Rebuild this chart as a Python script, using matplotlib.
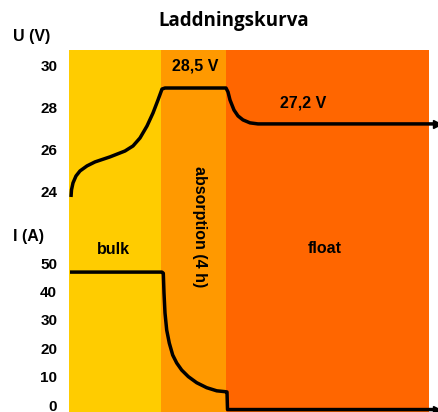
#Laddningskurva - charging curve with bulk / absorption / float phases
import matplotlib
matplotlib.use("Agg")
import matplotlib.pyplot as plt

plt.rcParams['font.family'] = ['Liberation Sans', 'DejaVu Sans']

# phase boundaries on the time axis (arbitrary units)
phase_edges = [0, 9.2, 15.7, 36]
phase_names = ["bulk", "absorption (4 h)", "float"]
phase_colors = ["#FFCC00", "#FF9900", "#FF6600"]

# voltage curve (t, U)
volt_t = [0.2, 0.25, 0.4, 0.7, 1.1, 1.8, 2.6, 4.1, 5.6, 6.4, 7.1, 7.8, 8.4, 8.9, 9.3, 9.6,
          15.7, 15.9, 16.1, 16.5, 16.9, 17.4, 18.1, 18.9, 36.8]
volt_u = [23.76, 24.1, 24.43, 24.76, 25.0, 25.24, 25.43, 25.67, 25.95, 26.19, 26.57, 27.14, 27.76, 28.38, 28.9, 28.95,
          28.95, 28.76, 28.38, 27.9, 27.62, 27.43, 27.29, 27.24, 27.24]

# current curve (t, I)
curr_t = [0.1, 9.3, 9.43, 9.5, 9.6, 9.77, 10.03, 10.37, 10.77, 11.27, 11.93, 12.77, 13.77, 14.77, 15.6, 15.8,
          15.85, 36.8]
curr_i = [46.8, 46.8, 46.4, 39.4, 32.4, 26.4, 21.8, 17.6, 14.8, 12.3, 10.0, 7.85, 6.1, 5.0, 4.7, 4.6,
          -1.6, -1.6]

volt_ticks = [24, 26, 28, 30]
curr_ticks = [0, 10, 20, 30, 40, 50]

fig = plt.figure(figsize=(4.39, 4.12), dpi=100)
rect = [69 / 439, 0.0, 360 / 439, 362 / 412]

# voltage axes carries the coloured phases
ax = fig.add_axes(rect)
for k in range(len(phase_names)):
    ax.axvspan(phase_edges[k], phase_edges[k + 1], color=phase_colors[k], lw=0)
ax.set_xlim(phase_edges[0], phase_edges[-1])
ax.set_ylim(13.52, 30.76)
ax.plot(volt_t, volt_u, color="black", lw=2.5, clip_on=False, solid_capstyle="butt", solid_joinstyle="round")
ax.plot(volt_t[-1], volt_u[-1], marker=">", color="black", ms=6, clip_on=False)
ax.set_yticks(volt_ticks)
ax.set_xticks([])

# current axes on top, transparent
ax2 = fig.add_axes(rect, sharex=ax)
ax2.patch.set_alpha(0)
ax2.set_ylim(-2.46, 125.0)
ax2.plot(curr_t, curr_i, color="black", lw=2.5, clip_on=False, solid_capstyle="butt", solid_joinstyle="round")
ax2.plot(curr_t[-1], curr_i[-1], marker=">", color="black", ms=6, clip_on=False)
ax2.set_yticks(curr_ticks)

for a in (ax, ax2):
    for s in a.spines.values():
        s.set_visible(False)
    a.tick_params(axis="y", length=0, pad=8.5, labelsize=11)
    a.tick_params(axis="x", length=0, labelbottom=False)
    for lab in a.get_yticklabels():
        lab.set_fontweight("bold")

# labels inside the chart
lab_kw = dict(ha="center", va="center", fontsize=11.5, fontweight="bold")
ax.text(12.6, 30.0, "28,5 V", **lab_kw)
ax.text(23.4, 28.24, "27,2 V", **lab_kw)
ax2.text(4.4, 54.6, phase_names[0], **lab_kw)
ax2.text(13.1, 62.7, phase_names[1], rotation=-90, **lab_kw)
ax2.text(25.6, 55.0, phase_names[2], **lab_kw)

# axis titles and chart title
fig.text(13 / 439, 1 - 37 / 412, "U (V)", ha="left", va="center", fontsize=11.5, fontweight="bold")
fig.text(13 / 439, 1 - 237 / 412, "I (A)", ha="left", va="center", fontsize=11.5, fontweight="bold")
fig.text(234 / 439, 1 - 21 / 412, "Laddningskurva", ha="center", va="center", fontsize=13.5,
         fontweight="bold", family=["Open Sans", "DejaVu Sans"])

fig.savefig("out.png", dpi=100)
